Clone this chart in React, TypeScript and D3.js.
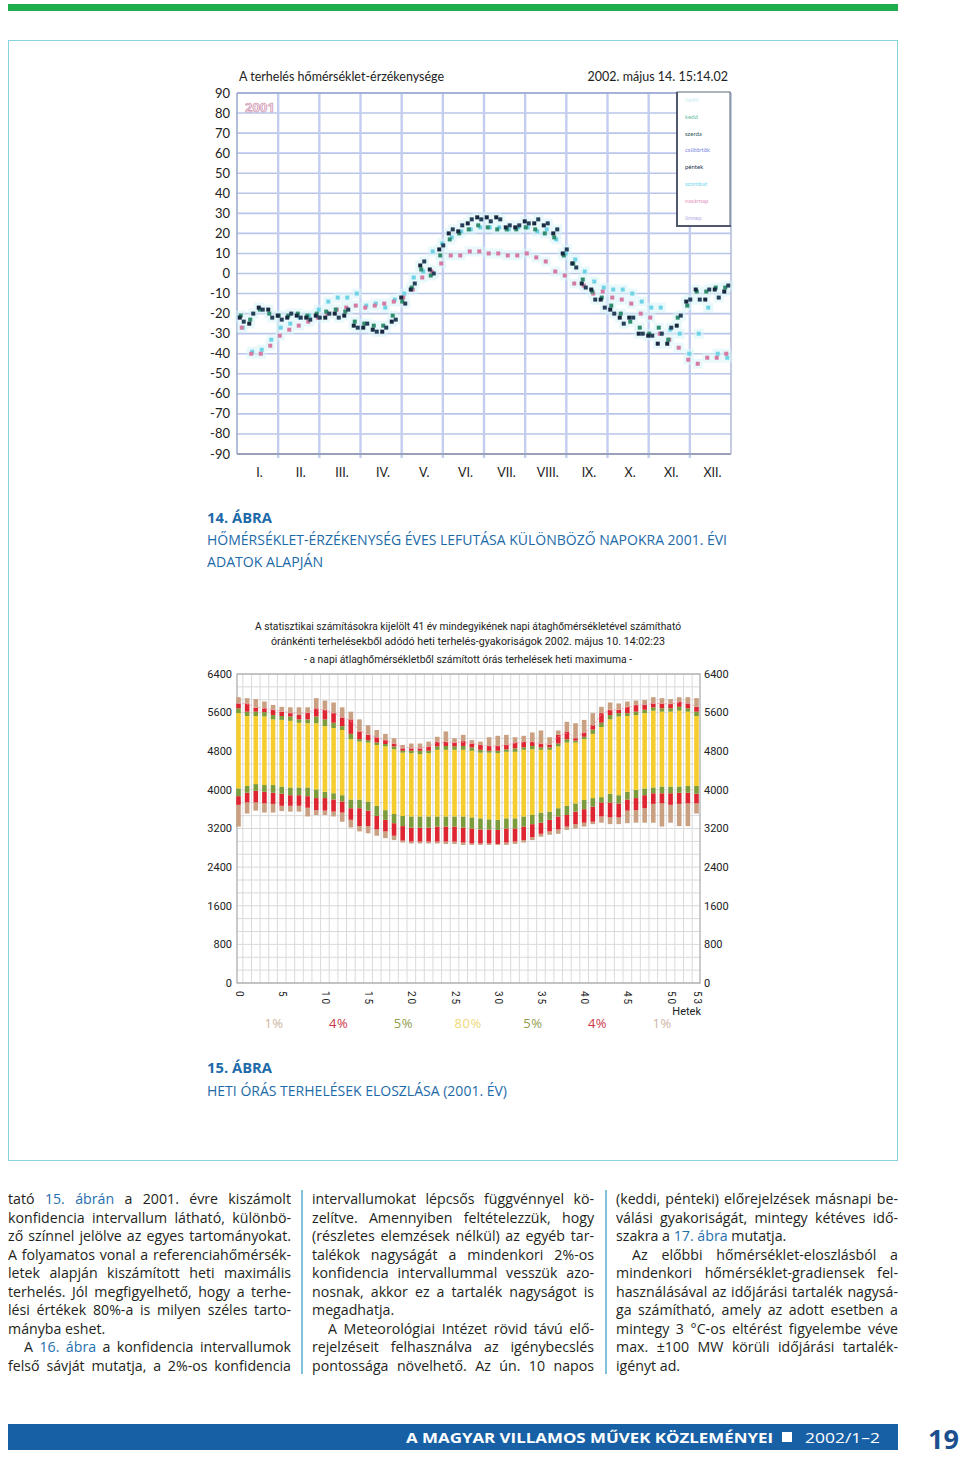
import React from 'react';
import * as d3 from 'd3';

// ---------- Top chart data (weekly temperature sensitivity, 2001) ----------
const MONTHS = ['I.', 'II.', 'III.', 'IV.', 'V.', 'VI.', 'VII.', 'VIII.', 'IX.', 'X.', 'XI.', 'XII.'];
const TOP_TICKS = [90, 80, 70, 60, 50, 40, 30, 20, 10, 0, -10, -20, -30, -40, -50, -60, -70, -80, -90];
const SENS_KEDD = [-22, -25, -17, -18, -21, -22, -21, -22, -21, -22, -20, -21, -26, -27, -28, -29, -24, -12, -8, 4, 2, 12, 20, 21, 25, 28, 28, 28, 23, 23, 26, 25, 24, 20, 10, 5, -5, -8, -13, -18, -22, -22, -30, -31, -35, -35, -26, -14, -8, -13, -8, -9];
const SENS_CSUT = [-24, -20, -18, -22, -23, -20, -22, -23, -22, -20, -22, -18, -27, -25, -29, -27, -23, -15, -5, 6, 0, 14, 22, 24, 27, 27, 26, 27, 24, 24, 25, 27, 25, 22, 12, 3, -7, -13, -17, -20, -25, -22, -30, -31, -30, -27, -21, -13, -13, -8, -12, -6];
const SENS_HETFO = [-21, -23, -18, -20, -21, -21, -20, -21, -20, -19, -18, -19, -24, -25, -26, -26, -21, -14, -7, 2, -1, 9, 17, 20, 22, 24, 23, 22, 22, 22, 23, 22, 20, 18, 9, 5, -3, -9, -12, -16, -20, -24, -27, -30, -27, -33, -22, -16, -9, -9, -7, -7];
const SENS_PENTEK = [-27, -39, -38, -33, -27, -25, -22, -21, -18, -14, -12, -12, -10, -16, -15, -17, -13, -10, -2, 1, 11, 15, 18, 21, 22, 23, 23, 23, 22, 23, 23, 21, 22, 17, 10, 7, 1, -4, -7, -8, -8, -10, -14, -17, -17, -28, -30, -40, -30, -17, -40, -42];
const SENS_SZOMBAT = [-27, -40, -40, -36, -31, -28, -26, -24, -22, -20, -18, -17, -16, -17, -16, -15, -14, -12, -8, -2, 1, 5, 9, 9, 11, 11, 10, 10, 9, 9, 10, 8, 6, 1, -1, -5, -6, -10, -9, -12, -13, -15, -20, -22, -30, -33, -37, -43, -45, -42, -42, -40];
const LEGEND_DAYS = ['hétfő', 'kedd', 'szerda', 'csütörtök', 'péntek', 'szombat', 'vasárnap', 'ünnep'];
const LEGEND_COLORS = ['#cdeef3', '#68c0a0', '#2c5656', '#7a86e0', '#243250', '#74d6ee', '#e392bb', '#b6aae8'];

// ---------- Bottom chart data (weekly hourly load distribution, MW) ----------
const LOAD_TICKS = [0, 800, 1600, 2400, 3200, 4000, 4800, 5600, 6400];
const WEEK_LABELS = [0, 5, 10, 15, 20, 25, 30, 35, 40, 45, 50, 53];
const PCT_LABELS = ['1%', '4%', '5%', '80%', '5%', '4%', '1%'];
const PCT_COLORS = ['#cdb5a2', '#cc3648', '#8f9c4a', '#f0d878', '#8f9c4a', '#cc3648', '#cdb5a2'];
const TAN_TOP = [5920, 5900, 5880, 5830, 5760, 5720, 5710, 5710, 5710, 5900, 5850, 5810, 5710, 5620, 5460, 5340, 5240, 5160, 5070, 4930, 4960, 4960, 5000, 5100, 5210, 5070, 5140, 5030, 5000, 5090, 5120, 5140, 5090, 5120, 5190, 5230, 5090, 5230, 5410, 5380, 5450, 5590, 5720, 5810, 5790, 5830, 5850, 5860, 5920, 5900, 5880, 5920, 5920, 5900];
const RED_TOP = [5790, 5790, 5700, 5690, 5660, 5620, 5590, 5550, 5600, 5690, 5660, 5590, 5500, 5460, 5210, 5140, 5090, 5030, 4960, 4860, 4860, 4860, 4900, 5000, 5000, 4980, 5010, 4960, 4930, 4910, 4910, 4930, 4980, 5000, 5000, 4960, 4930, 5140, 5210, 5070, 5190, 5340, 5590, 5660, 5660, 5720, 5760, 5760, 5790, 5790, 5780, 5830, 5790, 5720];
const GREEN_TOP = [5690, 5620, 5620, 5610, 5550, 5530, 5520, 5460, 5460, 5520, 5460, 5390, 5320, 5160, 5050, 5030, 4980, 4950, 4900, 4810, 4810, 4810, 4810, 4900, 4910, 4900, 4910, 4880, 4830, 4810, 4810, 4840, 4860, 4880, 4910, 4880, 4880, 4960, 5050, 5020, 5100, 5250, 5390, 5550, 5590, 5590, 5620, 5660, 5710, 5690, 5690, 5720, 5690, 5620];
const YEL_TOP = [5590, 5530, 5530, 5520, 5460, 5450, 5430, 5390, 5380, 5380, 5320, 5280, 5240, 5050, 5000, 4980, 4930, 4900, 4840, 4770, 4760, 4740, 4760, 4830, 4830, 4830, 4830, 4810, 4770, 4770, 4760, 4790, 4790, 4830, 4840, 4830, 4830, 4900, 4980, 4980, 5050, 5160, 5300, 5460, 5520, 5530, 5550, 5590, 5640, 5620, 5620, 5640, 5620, 5530];
const YEL_BOT = [4030, 4080, 4120, 4100, 4100, 4070, 4050, 4050, 4050, 4010, 3960, 3930, 3890, 3800, 3800, 3760, 3670, 3580, 3500, 3460, 3450, 3450, 3450, 3450, 3450, 3450, 3450, 3430, 3410, 3390, 3380, 3410, 3410, 3450, 3480, 3530, 3550, 3620, 3670, 3720, 3790, 3830, 3850, 3920, 3890, 3960, 4000, 4030, 4050, 4070, 4070, 4070, 4080, 4080];
const GREEN_BOT = [3870, 3940, 3980, 3960, 3940, 3920, 3890, 3890, 3870, 3830, 3830, 3800, 3760, 3620, 3620, 3570, 3460, 3380, 3310, 3250, 3220, 3220, 3220, 3240, 3240, 3240, 3220, 3200, 3180, 3180, 3170, 3200, 3200, 3240, 3290, 3320, 3380, 3450, 3480, 3550, 3600, 3650, 3740, 3740, 3720, 3800, 3830, 3890, 3930, 3930, 3930, 3940, 3940, 3920];
const RED_BOT = [3690, 3740, 3740, 3720, 3710, 3670, 3670, 3670, 3630, 3580, 3570, 3550, 3530, 3380, 3250, 3250, 3180, 3140, 3050, 2950, 2930, 2930, 2930, 2930, 2930, 2930, 2910, 2890, 2890, 2890, 2880, 2910, 2930, 2960, 3020, 3090, 3140, 3180, 3240, 3290, 3320, 3340, 3450, 3430, 3430, 3570, 3580, 3620, 3710, 3720, 3690, 3710, 3720, 3720];
const TAN_BOT = [3240, 3510, 3570, 3530, 3530, 3560, 3550, 3550, 3450, 3480, 3480, 3450, 3340, 3220, 3140, 3100, 3050, 3000, 2960, 2910, 2890, 2890, 2890, 2890, 2880, 2880, 2860, 2860, 2860, 2860, 2860, 2860, 2880, 2910, 2960, 3030, 3070, 3090, 3170, 3200, 3240, 3290, 3320, 3290, 3290, 3310, 3320, 3320, 3320, 3240, 3320, 3250, 3250, 3510];
const REF_MAX = [5800, 5780, 5720, 5690, 5660, 5630, 5600, 5580, 5600, 5680, 5650, 5590, 5510, 5430, 5230, 5150, 5090, 5030, 4960, 4880, 4870, 4870, 4900, 4980, 4990, 4980, 4990, 4960, 4930, 4910, 4910, 4930, 4970, 4990, 4990, 4960, 4940, 5100, 5180, 5090, 5180, 5320, 5570, 5650, 5660, 5710, 5750, 5760, 5790, 5790, 5780, 5810, 5790, 5730];

// ---------- Body text ----------
const COL1 = [
  { t: 'tató {15. ábrán} a 2001. évre kiszámolt', j: true },
  { t: 'konfidencia intervallum látható, különbö-', j: true },
  { t: 'ző színnel jelölve az egyes tartományokat.', j: true },
  { t: 'A folyamatos vonal a referenciahőmérsék-', j: true },
  { t: 'letek alapján kiszámított heti maximális', j: true },
  { t: 'terhelés. Jól megfigyelhető, hogy a terhe-', j: true },
  { t: 'lési értékek 80%-a is milyen széles tarto-', j: true },
  { t: 'mányba eshet.', j: false },
  { t: 'A {16. ábra} a konfidencia intervallumok', j: true, indent: true },
  { t: 'felső sávját mutatja, a 2%-os konfidencia', j: true },
];
const COL2 = [
  { t: 'intervallumokat lépcsős függvénnyel kö-', j: true },
  { t: 'zelítve. Amennyiben feltételezzük, hogy', j: true },
  { t: '(részletes elemzések nélkül) az egyéb tar-', j: true },
  { t: 'talékok nagyságát a mindenkori 2%-os', j: true },
  { t: 'konfidencia intervallummal vesszük azo-', j: true },
  { t: 'nosnak, akkor ez a tartalék nagyságot is', j: true },
  { t: 'megadhatja.', j: false },
  { t: 'A Meteorológiai Intézet rövid távú elő-', j: true, indent: true },
  { t: 'rejelzéseit felhasználva az igénybecslés', j: true },
  { t: 'pontossága növelhető. Az ún. 10 napos', j: true },
];
const COL3 = [
  { t: '(keddi, pénteki) előrejelzések másnapi be-', j: true },
  { t: 'válási gyakoriságát, mintegy kétéves idő-', j: true },
  { t: 'szakra a {17. ábra} mutatja.', j: false },
  { t: 'Az előbbi hőmérséklet-eloszlásból a', j: true, indent: true },
  { t: 'mindenkori hőmérséklet-gradiensek fel-', j: true },
  { t: 'használásával az időjárási tartalék nagysá-', j: true },
  { t: 'ga számítható, amely az adott esetben a', j: true },
  { t: 'mintegy 3 °C-os eltérést figyelembe véve', j: true },
  { t: 'max. ±100 MW körüli időjárási tartalék-', j: true },
  { t: 'igényt ad.', j: false },
];

const BLUE = '#1f6fae';
const BODY_FONT_SIZE = 14.2;
const BODY_FAMILY = "'Open Sans'";

let ctxCache: CanvasRenderingContext2D | null = null;
function measure(text: string, font: string): number {
  if (!ctxCache) ctxCache = document.createElement('canvas').getContext('2d');
  if (!ctxCache) return text.length * 7;
  ctxCache.font = font;
  return ctxCache.measureText(text).width;
}

function Column({ x, width, lines }: { x: number; width: number; lines: any[] }) {
  return (
    <g>
      {lines.map((ln, i) => {
        const y = 1204 + i * 18.5;
        const plain = ln.t.replace(/[{}]/g, '');
        const ind = ln.indent ? 16 : 0;
        const target = width - ind;
        const nat = measure(plain, `${BODY_FONT_SIZE}px ${BODY_FAMILY}`);
        const spaces = (plain.match(/ /g) || []).length;
        const ws = ln.j && spaces ? (target - nat) / spaces : 0;
        const parts = ln.t.split(/(\{[^}]*\})/).filter((p: string) => p.length);
        return (
          <text key={i} x={x + ind} y={y} fontFamily={BODY_FAMILY} fontSize={BODY_FONT_SIZE} fill="#231f20" style={{ wordSpacing: `${ws}px` }}>
            {parts.map((p: string, k: number) =>
              p.startsWith('{') ? <tspan key={k} fill={BLUE}>{p.slice(1, -1)}</tspan> : <tspan key={k}>{p}</tspan>
            )}
          </text>
        );
      })}
    </g>
  );
}

function TopChart() {
  const L = 237, R = 731, T = 93, B = 454;
  const x = d3.scaleLinear().domain([0, 52]).range([L, R]);
  const xm = d3.scaleLinear().domain([0, 12]).range([L, R]);
  const y = d3.scaleLinear().domain([-90, 90]).range([B, T]);
  const series = [
    { data: SENS_PENTEK, color: '#6fd3e6', dx: 1 },
    { data: SENS_SZOMBAT, color: '#d47aa3', dx: 0 },
    { data: SENS_HETFO, color: '#2f8c6c', dx: -1 },
    { data: SENS_CSUT, color: '#26405a', dx: 2 },
    { data: SENS_KEDD, color: '#17283f', dx: -2 },
  ];
  const lab = "'Lato', 'Open Sans', sans-serif";
  return (
    <g>
      <text x={239} y={81} fontFamily={lab} fontSize={12.5} fill="#222">A terhelés hőmérséklet-érzékenysége</text>
      <text x={728} y={81} textAnchor="end" fontFamily={lab} fontSize={12.5} fill="#222">2002. május 14.  15:14.02</text>
      {TOP_TICKS.map((t) => (
        <line key={'h' + t} x1={L} x2={R} y1={y(t)} y2={y(t)} stroke="#b9c6ea" strokeWidth={1.6} />
      ))}
      {d3.range(1, 12).map((m) => (
        <line key={'v' + m} x1={xm(m)} x2={xm(m)} y1={T} y2={B + 4} stroke="#c3cdf0" strokeWidth={2.4} />
      ))}
      <line x1={L} x2={L} y1={T} y2={B} stroke="#9aa6cf" strokeWidth={1.5} />
      <line x1={L} x2={R} y1={T} y2={T} stroke="#9aa6cf" strokeWidth={1.5} />
      <line x1={L} x2={R} y1={B} y2={B} stroke="#98a0bb" strokeWidth={2} />
      <line x1={R} x2={R} y1={T} y2={B} stroke="#b0b8d8" strokeWidth={1.5} />
      {TOP_TICKS.map((t) => (
        <text key={'yl' + t} x={230} y={y(t)} dy="0.35em" textAnchor="end" fontFamily={lab} fontSize={13} fill="#222">{t}</text>
      ))}
      {MONTHS.map((m, i) => (
        <text key={m} x={xm(i + 0.5) + 2} y={477} textAnchor="middle" fontFamily={lab} fontSize={12.5} fill="#222">{m}</text>
      ))}
      <text x={245} y={112} fontFamily="'Open Sans', sans-serif" fontWeight="bold" fontSize={13} fill="#f5e4ec" stroke="#c987a7" strokeWidth={0.6}>2001</text>
      <g opacity={0.55}>
        {series.map((s, si) =>
          s.data.map((v, i) => (
            <rect key={`hz${si}-${i}`} x={x(i + 0.5) + s.dx - 5} y={y(v) - 5} width={10} height={10} fill="#d8f5f8" />
          ))
        )}
      </g>
      {series.map((s, si) => (
        <g key={'s' + si}>
          {s.data.map((v, i) => (
            <rect key={i} x={x(i + 0.5) + s.dx - 2} y={y(v) - 2} width={4} height={4} fill={s.color} />
          ))}
        </g>
      ))}
      <rect x={677} y={92} width={53} height={134} fill="#ffffff" stroke="#5d6678" strokeWidth={1} />
      <line x1={677} x2={677} y1={92} y2={227} stroke="#4f586c" strokeWidth={2} />
      <line x1={677} x2={731} y1={226} y2={226} stroke="#4f586c" strokeWidth={2} />
      {LEGEND_DAYS.map((d, i) => (
        <text key={d} x={685} y={102 + i * 16.8} fontFamily={lab} fontSize={6} fill={LEGEND_COLORS[i]}>{d}</text>
      ))}
    </g>
  );
}

function BottomChart() {
  const L = 237, R = 700, T = 674, B = 983;
  const x = d3.scaleLinear().domain([0, 53]).range([238.5, 696.5]);
  const y = d3.scaleLinear().domain([0, 6400]).range([B, T]);
  const narrow = "'Liberation Sans Narrow', 'Roboto', sans-serif";
  const bw = 4.6;
  const segs = [
    { lo: TAN_BOT, hi: RED_BOT, c: '#c9a182' },
    { lo: RED_BOT, hi: GREEN_BOT, c: '#df2531' },
    { lo: GREEN_BOT, hi: YEL_BOT, c: '#7c9c3c' },
    { lo: YEL_BOT, hi: YEL_TOP, c: '#f6cd2e' },
    { lo: YEL_TOP, hi: GREEN_TOP, c: '#7c9c3c' },
    { lo: GREEN_TOP, hi: RED_TOP, c: '#df2531' },
    { lo: RED_TOP, hi: TAN_TOP, c: '#c9a182' },
  ];
  const weeks = TAN_TOP.map((_, i) => i);
  const line = d3.line<number>().x((d, i) => x(i)).y((d) => y(d));
  return (
    <g>
      <text x={468} y={630} textAnchor="middle" fontFamily={narrow} fontSize={11} textLength={426} lengthAdjust="spacingAndGlyphs" fill="#222">A statisztikai számításokra kijelölt 41 év mindegyikének napi átaghőmérsékletével számítható</text>
      <text x={468} y={645} textAnchor="middle" fontFamily={narrow} fontSize={11} textLength={394} lengthAdjust="spacingAndGlyphs" fill="#222">óránkénti terhelésekből adódó heti terhelés-gyakoriságok  2002. május 10.  14:02:23</text>
      <text x={468} y={663} textAnchor="middle" fontFamily={narrow} fontSize={11} textLength={328} lengthAdjust="spacingAndGlyphs" fill="#222">- a napi átlaghőmérsékletből számított órás terhelések heti maximuma -</text>
      {d3.range(0, 6401, 800 / 3).map((v, i) => (
        <line key={'gh' + i} x1={L} x2={R} y1={y(v)} y2={y(v)} stroke="#dadada" strokeWidth={1} />
      ))}
      {d3.range(0.5, 53, 1).map((w, i) => (
        <line key={'gv' + i} x1={x(w)} x2={x(w)} y1={T} y2={B} stroke="#dadada" strokeWidth={1} />
      ))}
      <rect x={L} y={T} width={R - L} height={B - T} fill="none" stroke="#a8a8a8" strokeWidth={1.2} />
      {LOAD_TICKS.map((t) => (
        <g key={'yt' + t}>
          <text x={232} y={y(t)} dy="0.35em" textAnchor="end" fontFamily={narrow} fontSize={11} fill="#222">{t}</text>
          <text x={704} y={y(t)} dy="0.35em" textAnchor="start" fontFamily={narrow} fontSize={11} fill="#222">{t}</text>
        </g>
      ))}
      {weeks.map((w) => (
        <g key={'b' + w}>
          {segs.map((s, si) => (
            <rect key={si} x={x(w) - bw / 2} y={y(s.hi[w])} width={bw} height={Math.max(0, y(s.lo[w]) - y(s.hi[w]))} fill={s.c} />
          ))}
        </g>
      ))}
      <path d={line(REF_MAX) || ''} fill="none" stroke="#ef9ab0" strokeWidth={1} strokeDasharray="2,2" opacity={0.85} />
      {WEEK_LABELS.map((w) => (
        <text key={'wl' + w} transform={`translate(${x(w) - 3},${991}) rotate(90)`} fontFamily={narrow} fontSize={10} letterSpacing={1.8} fill="#222">{w}</text>
      ))}
      <text x={701} y={1015} textAnchor="end" fontFamily={narrow} fontSize={11} fill="#222">Hetek</text>
      {PCT_LABELS.map((p, i) => (
        <text key={'p' + i} x={274 + i * 64.7} y={1028} textAnchor="middle" fontFamily="'Open Sans', sans-serif" fontSize={13} letterSpacing={0.5} fill={PCT_COLORS[i]}>{p}</text>
      ))}
    </g>
  );
}

export default function App() {
  const cap = "'Open Sans', sans-serif";
  const capBlue = '#1d6aa9';
  return (
    <svg width={960} height={1457} viewBox="0 0 960 1457" style={{ position: 'absolute', left: 0, top: 0, display: 'block', background: '#fff' }}>
      <rect x={0} y={0} width={960} height={1457} fill="#ffffff" />
      <rect x={8} y={4} width={890} height={7} fill="#1fae4d" />
      <rect x={8.5} y={40.5} width={889} height={1120} fill="none" stroke="#88d2de" strokeWidth={1} />
      <TopChart />
      <text x={207} y={523} fontFamily={cap} fontWeight="bold" fontSize={14} fill={capBlue} textLength={65} lengthAdjust="spacingAndGlyphs">14. ÁBRA</text>
      <text x={207} y={545} fontFamily={cap} fontSize={14} fill={capBlue} textLength={520} lengthAdjust="spacingAndGlyphs">HŐMÉRSÉKLET-ÉRZÉKENYSÉG ÉVES LEFUTÁSA KÜLÖNBÖZŐ NAPOKRA 2001. ÉVI</text>
      <text x={207} y={567} fontFamily={cap} fontSize={14} fill={capBlue} textLength={116} lengthAdjust="spacingAndGlyphs">ADATOK ALAPJÁN</text>
      <BottomChart />
      <text x={207} y={1073} fontFamily={cap} fontWeight="bold" fontSize={14} fill={capBlue} textLength={65} lengthAdjust="spacingAndGlyphs">15. ÁBRA</text>
      <text x={207} y={1096} fontFamily={cap} fontSize={14} fill={capBlue} textLength={300} lengthAdjust="spacingAndGlyphs">HETI ÓRÁS TERHELÉSEK ELOSZLÁSA (2001. ÉV)</text>
      <Column x={8} width={283} lines={COL1} />
      <Column x={312} width={282} lines={COL2} />
      <Column x={616} width={282} lines={COL3} />
      <line x1={302} x2={302} y1={1190} y2={1374} stroke="#7fc2dc" strokeWidth={2} />
      <line x1={606} x2={606} y1={1190} y2={1374} stroke="#7fc2dc" strokeWidth={2} />
      <rect x={8} y={1424} width={890} height={26} fill="#1760a6" />
      <text x={406} y={1443} fontFamily={cap} fontWeight="bold" fontSize={15} fill="#fff" textLength={367} lengthAdjust="spacingAndGlyphs">A MAGYAR VILLAMOS MŰVEK KÖZLEMÉNYEI</text>
      <rect x={782} y={1432} width={10} height={10} fill="#fff" />
      <text x={805} y={1443} fontFamily={cap} fontSize={15} fill="#fff" textLength={75} lengthAdjust="spacingAndGlyphs">2002/1–2</text>
      <text x={928} y={1449} fontFamily={cap} fontWeight="bold" fontSize={27} fill="#1b4f8e">19</text>
    </svg>
  );
}
